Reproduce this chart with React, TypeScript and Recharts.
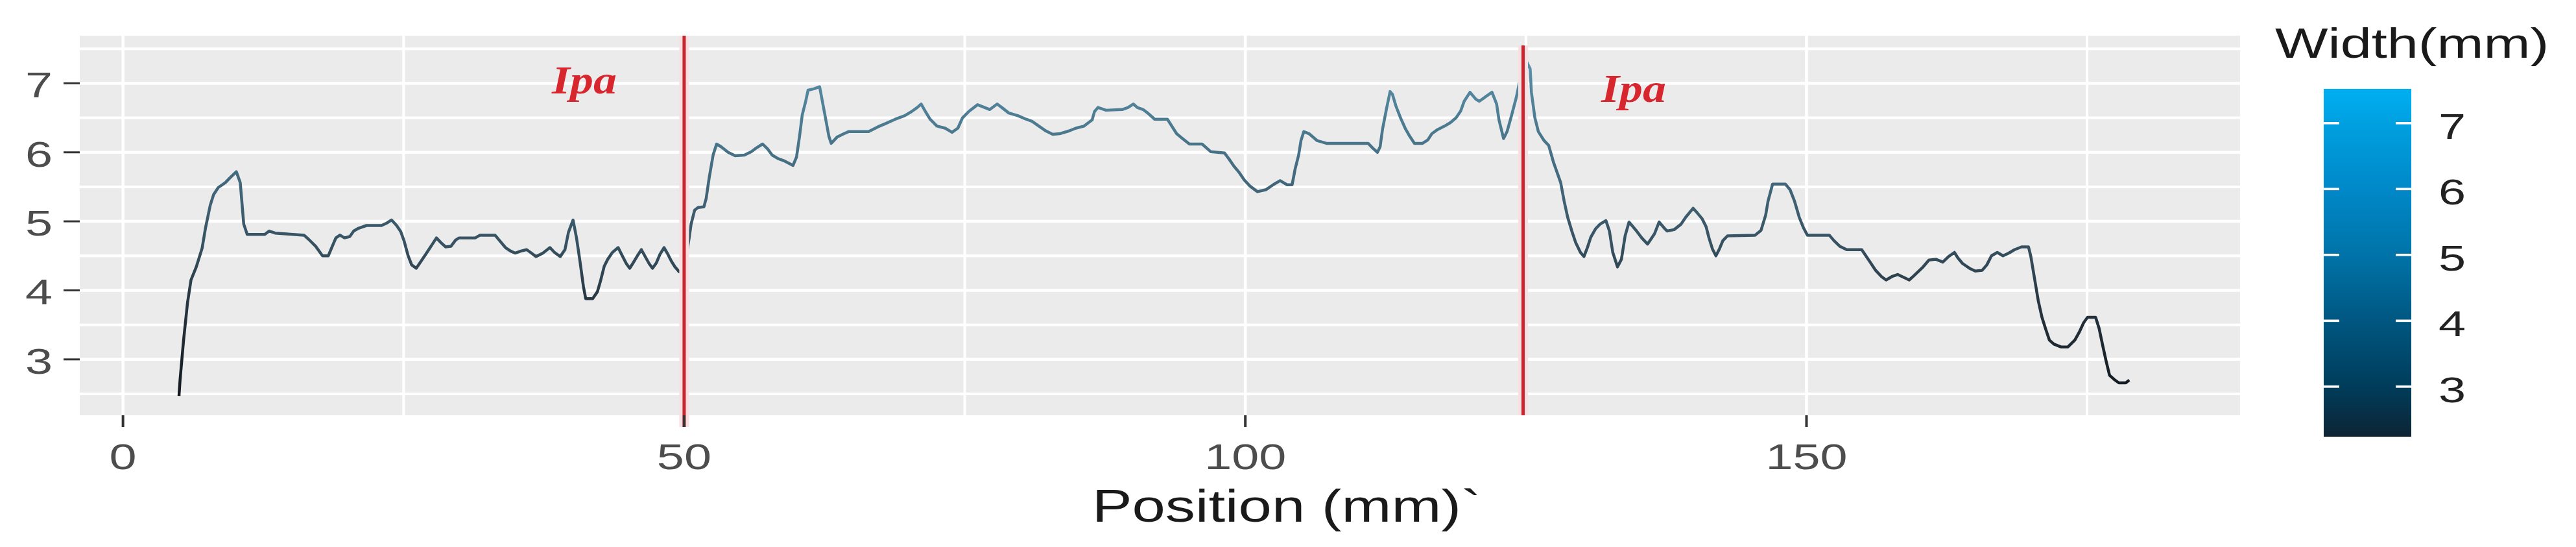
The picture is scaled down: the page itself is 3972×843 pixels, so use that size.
import { CartesianGrid, Label, Line, LineChart, ReferenceDot, ReferenceLine, XAxis, YAxis } from 'recharts'

const positions = [
  4.99, 5.09, 5.4, 5.75, 6.06, 6.53, 7.05, 7.36, 7.77, 8.08, 8.49, 9.11, 9.53, 10.1, 10.45, 10.76, 11.07, 12.62, 13.03, 13.55,
  16.13, 16.54, 17.16, 17.78, 18.29, 18.6, 18.97, 19.33, 19.74, 20.21, 20.56, 20.98, 21.7, 23.04, 23.45, 23.93, 24.38, 24.75,
  25.04, 25.41, 25.72, 26.13, 26.55, 26.96, 27.37, 27.93, 28.34, 28.75, 29.23, 29.64, 29.95, 31.39, 31.81, 33.15, 33.56, 34.08,
  34.53, 34.94, 35.46, 35.97, 36.39, 36.8, 37.42, 38.04, 38.45, 38.96, 39.38, 39.69, 40.1, 40.41, 40.72, 41.03, 41.23, 41.85,
  42.27, 42.57, 42.88, 43.19, 43.61, 44.12, 44.43, 44.84, 45.15, 45.46, 45.83, 46.19, 46.49, 46.87, 47.18, 47.53, 47.84, 48.21,
  48.56, 48.87, 49.18, 49.55, 49.96, 50.41, 50.62, 50.93, 51.24, 51.76, 51.96, 52.23, 52.58, 52.89, 53.3, 53.92, 54.54, 55.37,
  55.99, 56.4, 56.98, 57.43, 57.84, 58.36, 58.87, 59.7, 60.01, 60.28, 60.52, 60.83, 61.04, 61.56, 62.07, 62.28, 62.59, 62.9,
  63.1, 63.62, 64.24, 64.65, 66.44, 67.27, 67.99, 68.81, 69.64, 70.26, 70.77, 71.12, 71.5, 71.91, 72.53, 73.25, 73.87, 74.39,
  74.8, 75.42, 76.14, 76.76, 77.23, 77.89, 78.3, 78.92, 79.75, 80.47, 80.99, 81.61, 82.23, 82.84, 83.46, 84.29, 84.91, 85.63,
  86.35, 86.56, 86.87, 87.59, 89.03, 89.55, 90.02, 90.37, 90.89, 91.3, 91.92, 93.06, 93.37, 93.88, 94.4, 95.02, 96.15, 96.91,
  97.53, 98.15, 98.56, 98.98, 99.49, 99.9, 100.42, 101.08, 101.86, 102.48, 103.1, 103.72, 104.17, 104.44, 104.75, 104.96,
  105.21, 105.68, 106.4, 107.23, 110.94, 111.36, 111.77, 112.01, 112.22, 112.59, 112.9, 113.11, 113.42, 113.83, 114.24, 114.66,
  115.07, 115.79, 116.26, 116.62, 117.13, 117.75, 118.27, 118.78, 119.19, 119.5, 120.02, 120.54, 120.85, 121.36, 121.98,
  122.39, 122.6, 123.01, 123.32, 123.73, 124.15, 124.46, 124.97, 125.07, 125.38, 125.49, 125.8, 126.11, 126.62, 127.03, 127.45,
  128.1, 128.41, 128.72, 129.09, 129.44, 129.86, 130.17, 130.48, 130.78, 131.2, 131.61, 132.13, 132.44, 132.74, 133.16, 133.51,
  133.84, 134.19, 134.81, 135.32, 135.84, 136.46, 136.87, 137.39, 137.59, 138.21, 138.83, 139.24, 139.9, 140.28, 140.69,
  141.06, 141.31, 141.62, 141.93, 142.24, 142.55, 142.96, 145.43, 145.95, 146.36, 146.57, 146.98, 148.12, 148.53, 148.94,
  149.35, 149.72, 150.08, 152.03, 152.45, 152.96, 153.58, 154.92, 155.33, 155.75, 156.16, 156.68, 157.09, 157.61, 158.12,
  158.64, 159.15, 159.56, 160.39, 160.91, 161.53, 162.15, 162.66, 163.18, 163.49, 163.9, 164.52, 165.04, 165.65, 166.07,
  166.48, 167.0, 167.51, 168.03, 168.54, 169.16, 169.78, 169.99, 170.3, 170.65, 170.98, 171.33, 171.64, 172.05, 172.67,
  173.29, 173.91, 174.32, 174.69, 175.04, 175.76, 176.07, 176.38, 176.69, 177.0, 177.41, 177.83, 178.45, 178.76,
]

const widths = [
  2.47, 2.71, 3.28, 3.82, 4.15, 4.34, 4.61, 4.91, 5.23, 5.39, 5.49, 5.56, 5.63, 5.72, 5.56, 4.96, 4.81, 4.81, 4.86, 4.83,
  4.8, 4.74, 4.64, 4.5, 4.5, 4.62, 4.76, 4.8, 4.76, 4.78, 4.86, 4.9, 4.94, 4.94, 4.97, 5.02, 4.94, 4.85,
  4.72, 4.5, 4.37, 4.32, 4.42, 4.52, 4.62, 4.76, 4.69, 4.63, 4.64, 4.73, 4.76, 4.76, 4.8, 4.8, 4.72, 4.62,
  4.57, 4.54, 4.57, 4.59, 4.54, 4.49, 4.54, 4.62, 4.55, 4.49, 4.59, 4.84, 5.02, 4.76, 4.42, 4.05, 3.88, 3.88,
  3.98, 4.15, 4.35, 4.45, 4.55, 4.62, 4.52, 4.39, 4.32, 4.4, 4.5, 4.59, 4.5, 4.39, 4.32, 4.4, 4.52, 4.62,
  4.52, 4.42, 4.34, 4.27, 4.27, 4.72, 4.96, 5.16, 5.2, 5.21, 5.33, 5.63, 5.96, 6.12, 6.08, 6.0, 5.95, 5.96,
  6.01, 6.06, 6.12, 6.05, 5.96, 5.91, 5.88, 5.81, 5.93, 6.23, 6.54, 6.74, 6.9, 6.92, 6.95, 6.77, 6.5, 6.23,
  6.13, 6.22, 6.27, 6.3, 6.3, 6.37, 6.42, 6.48, 6.53, 6.59, 6.65, 6.7, 6.59, 6.48, 6.38, 6.35, 6.29, 6.35,
  6.5, 6.6, 6.69, 6.65, 6.62, 6.7, 6.65, 6.57, 6.53, 6.48, 6.45, 6.38, 6.31, 6.26, 6.27, 6.31, 6.35, 6.38,
  6.47, 6.59, 6.65, 6.61, 6.62, 6.65, 6.7, 6.65, 6.62, 6.57, 6.48, 6.48, 6.4, 6.27, 6.2, 6.12, 6.12, 6.01,
  6.0, 5.99, 5.9, 5.8, 5.7, 5.6, 5.51, 5.43, 5.46, 5.53, 5.59, 5.53, 5.53, 5.76, 5.96, 6.17,
  6.3, 6.27, 6.17, 6.13, 6.13, 6.06, 6.0, 6.08, 6.33, 6.64, 6.88, 6.84, 6.67, 6.5, 6.35, 6.23,
  6.13, 6.13, 6.18, 6.27, 6.33, 6.38, 6.43, 6.5, 6.6, 6.74, 6.87, 6.77, 6.74, 6.8, 6.87,
  6.7, 6.47, 6.2, 6.3, 6.54, 6.8, 7.04, 7.42, 7.31, 7.21, 6.87, 6.5, 6.3, 6.17, 6.1, 5.86,
  5.56, 5.29, 5.06, 4.86, 4.69, 4.55, 4.49, 4.62, 4.77, 4.89, 4.96, 5.01, 4.86, 4.55, 4.34, 4.45,
  4.79, 4.99, 4.87, 4.76, 4.67, 4.82, 4.99, 4.89, 4.86, 4.88, 4.96, 5.06, 5.19, 5.12, 5.04,
  4.92, 4.76, 4.6, 4.5, 4.6, 4.72, 4.79, 4.8, 4.87, 5.09, 5.29, 5.54, 5.54, 5.46, 5.29,
  5.06, 4.91, 4.8, 4.8, 4.72, 4.64, 4.59, 4.59, 4.49, 4.39, 4.29, 4.2, 4.15, 4.2, 4.23,
  4.19, 4.15, 4.21, 4.34, 4.44, 4.45, 4.41, 4.49, 4.55, 4.47, 4.39, 4.32, 4.28, 4.29, 4.37,
  4.5, 4.55, 4.5, 4.54, 4.59, 4.63, 4.63, 4.49, 4.19, 3.85, 3.61, 3.43, 3.28, 3.22, 3.18,
  3.18, 3.28, 3.4, 3.53, 3.61, 3.61, 3.45, 3.21, 2.98, 2.77, 2.71, 2.66, 2.66, 2.7,
]

const xTicks = [0, 50, 100, 150]
const xMinor = [25, 75, 125, 175]
const yTicks = [3, 4, 5, 6, 7]
const yMinor = [2.5, 3.5, 4.5, 5.5, 6.5, 7.5]
const legendTicks = [3, 4, 5, 6, 7]

// the two "Ipa" marks and their cut lines
const cutPositions = [50, 124.75]
const cutTops = [7.69, 7.55]
const cutBottoms = [2.02, 2.19]
const ipaX = [41.1, 134.6]
const ipaY = [6.85, 6.73]

const data = positions.map((pos, i) => ({ pos, width: widths[i] }))

const SANS = '"Liberation Sans", Arial, sans-serif'
const SX = 1.35

const lineStops = [
  { v: 7.42, c: '#5b93ad' },
  { v: 6.5, c: '#4d7d93' },
  { v: 5.5, c: '#416679' },
  { v: 4.6, c: '#36505f' },
  { v: 4.0, c: '#2a3b47' },
  { v: 3.2, c: '#1e2830' },
  { v: 2.47, c: '#12181e' },
]

const barStops = [
  { o: 0, c: '#00aff0' },
  { o: 0.1, c: '#00a0e0' },
  { o: 0.29, c: '#0088c8' },
  { o: 0.48, c: '#0073a8' },
  { o: 0.67, c: '#005680' },
  { o: 0.86, c: '#003c5a' },
  { o: 1, c: '#0d2434' },
]

function Stretch({ x, y, anchor = 'middle', size, fill, family = SANS, sx = SX, weight, italic, children }: any) {
  return (
    <text
      transform={`translate(${x},${y}) scale(${sx},1)`}
      textAnchor={anchor}
      fontSize={size}
      fontFamily={family}
      fontWeight={weight}
      fontStyle={italic ? 'italic' : undefined}
      fill={fill}
    >
      {children}
    </text>
  )
}

const XTick = ({ x, y, payload }: any) => (
  <Stretch x={x} y={y + 40} size={56} fill="#4d4d4d">{payload.value}</Stretch>
)

const YTick = ({ x, y, payload }: any) => (
  <Stretch x={x} y={y + 22} anchor="end" size={56} fill="#4d4d4d">{payload.value}</Stretch>
)

const XTitle = ({ viewBox }: any) => (
  <Stretch x={viewBox.x + viewBox.width * 0.4686} y={viewBox.y + 164} anchor="start" size={71} sx={1.3} fill="#1a1a1a">
    Position (mm)`
  </Stretch>
)

const IpaMark = ({ cx, cy }: any) => (
  <Stretch x={cx} y={cy} size={62} sx={1.16} fill="#d8262f" family='"Liberation Serif", "Times New Roman", serif' weight="bold" italic>
    Ipa
  </Stretch>
)

function ColorBar() {
  const top = 137
  const h = 536
  const left = 3583
  const w = 135
  const vMax = 7.52
  const vMin = 2.24
  const toY = (v: number) => top + ((vMax - v) / (vMax - vMin)) * h
  return (
    <svg width={3972} height={843} style={{ position: 'absolute', left: 0, top: 0, pointerEvents: 'none' }}>
      <defs>
        <linearGradient id="barGrad" x1="0" y1="0" x2="0" y2="1">
          {barStops.map((s) => (
            <stop key={s.o} offset={s.o} stopColor={s.c} />
          ))}
        </linearGradient>
      </defs>
      <Stretch x={3508} y={89} anchor="start" size={64} fill="#1a1a1a">Width(mm)</Stretch>
      <rect x={left} y={top} width={w} height={h} fill="url(#barGrad)" />
      {legendTicks.map((t) => (
        <g key={t}>
          <line x1={left} x2={left + 24} y1={toY(t)} y2={toY(t)} stroke="#ffffff" strokeWidth={3.6} />
          <line x1={left + w - 24} x2={left + w} y1={toY(t)} y2={toY(t)} stroke="#ffffff" strokeWidth={3.6} />
          <Stretch x={3760} y={toY(t) + 24} anchor="start" size={56} fill="#222222">{t}</Stretch>
        </g>
      ))}
    </svg>
  )
}

export default function App() {
  const wMax = Math.max(...widths)
  const wMin = Math.min(...widths)
  return (
    <div style={{ position: 'absolute', left: 0, top: 0, width: 3972, height: 843, background: '#ffffff' }}>
      <LineChart width={3972} height={843} data={data} margin={{ top: 55, right: 518, bottom: 0, left: 0 }}>
        <defs>
          <linearGradient id="lineGrad" x1="0" y1="0" x2="0" y2="1">
            {lineStops.map((s) => (
              <stop key={s.v} offset={(wMax - s.v) / (wMax - wMin)} stopColor={s.c} />
            ))}
          </linearGradient>
        </defs>
        <CartesianGrid
          fill="#ebebeb"
          stroke="#ffffff"
          horizontalValues={yMinor}
          verticalValues={xMinor}
          strokeWidth={4}
        />
        <CartesianGrid fill="none" stroke="#ffffff" horizontalValues={yTicks} verticalValues={xTicks} strokeWidth={4.5} />
        <XAxis
          dataKey="pos"
          type="number"
          domain={[-3.85, 188.63]}
          allowDataOverflow
          ticks={xTicks}
          height={203}
          axisLine={false}
          tickLine={{ stroke: '#333333', strokeWidth: 4 }}
          tickSize={18}
          tickMargin={25}
          tick={XTick}
        >
          <Label content={XTitle} />
        </XAxis>
        <YAxis
          type="number"
          domain={[2.19, 7.69]}
          allowDataOverflow
          ticks={yTicks}
          width={123}
          axisLine={false}
          tickLine={{ stroke: '#333333', strokeWidth: 3 }}
          tickSize={25}
          tickMargin={17}
          tick={YTick}
        />
        <Line
          dataKey="width"
          type="linear"
          stroke="url(#lineGrad)"
          strokeWidth={4.5}
          strokeLinejoin="round"
          dot={false}
          activeDot={false}
          isAnimationActive={false}
        />
        {cutPositions.map((p, i) => (
          <ReferenceLine
            key={`halo-${p}`}
            segment={[{ x: p, y: cutTops[i] }, { x: p, y: cutBottoms[i] }]}
            stroke="#f8dfe1"
            strokeWidth={15}
            ifOverflow="visible"
          />
        ))}
        {cutPositions.map((p, i) => (
          <ReferenceLine
            key={`cut-${p}`}
            segment={[{ x: p, y: cutTops[i] }, { x: p, y: cutBottoms[i] }]}
            stroke="#c8262f"
            strokeWidth={5}
            ifOverflow="visible"
          />
        ))}
        {ipaX.map((x, i) => (
          <ReferenceDot key={`ipa-${x}`} x={x} y={ipaY[i]} r={1} shape={IpaMark} />
        ))}
      </LineChart>
      <ColorBar />
    </div>
  )
}
